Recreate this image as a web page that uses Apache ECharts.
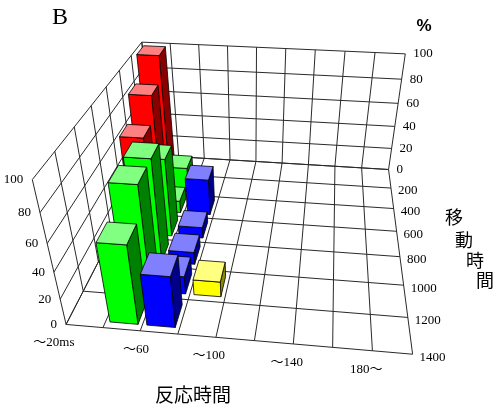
<!DOCTYPE html>
<html><head><meta charset="utf-8">
<script src="https://cdn.jsdelivr.net/npm/echarts@6/dist/echarts.min.js"></script>
<style>html,body{margin:0;padding:0;background:#fff}#chart{width:500px;height:410px}</style>
</head><body><div id="chart"></div>
<script>
// ---------------- data ----------------
const reactionCategories = ['～20ms','～40','～60','～80','～100','～120','～140','～160','180～'];
const reactionLabelStep = 2;
const movementTicks = ['200','400','600','800','1000','1200','1400'];
const percentTicks = [0, 20, 40, 60, 80, 100];
// values (%) per movement-time row (0-200 ... 1200-1400) for each reaction-time category
const rt20 = [99, 80, 61, 0, 0, 0, 0];
const rt40 = [0, 21, 10, 62, 79, 79, 59];
const rt60 = [0, 0, 30, 9, 10, 14, 39];
const rt80 = [0, 0, 0, 0, 0, 12, 0];
const seriesByReaction = [rt20, rt40, rt60, rt80];

// ---------------- styles ----------------
const palettes = [
  {front:'#FF0000', top:'#FF8080', side:'#8A0000'},
  {front:'#00FF00', top:'#80FF80', side:'#008000'},
  {front:'#0000FF', top:'#8080FF', side:'#000088'},
  {front:'#FFFF00', top:'#FFFF80', side:'#8A8A00'}
];
const NX = reactionCategories.length, NY = movementTicks.length, ZMAX = 100;
const BAR_W = 0.76, BAR_D = 0.66;
const GRID_COLOR = '#2a2a2a';
const NUM_FONT = '13px "Liberation Serif", "Noto Sans CJK JP", serif';

// ---------------- perspective (fitted to the reference frame) ----------------
const calib = [
  [0,7,0, 64,323],[9,7,0, 412,355],[9,0,0, 389,170],[9,0,100, 405,53],
  [0,0,100, 142,43],[0,7,100, 33,181],[9,3,0, 396,232],[9,5,0, 403,285],
  [4,7,0, 220,337],[9,0,60, 398,103],[0,7,60, 46,243],[5,0,100, 286,48]
];
function solveDLT(pts){
  const N=11, M=[];
  for(let i=0;i<N;i++) M.push(new Array(N+1).fill(0));
  const rows=[];
  pts.forEach(([X,Y,Z,u,v])=>{
    const x=X/NX,y=Y/NY,z=Z/ZMAX,uu=(u-250)/200,vv=(v-200)/200;
    rows.push([[x,y,z,1,0,0,0,0,-uu*x,-uu*y,-uu*z],uu]);
    rows.push([[0,0,0,0,x,y,z,1,-vv*x,-vv*y,-vv*z],vv]);
  });
  rows.forEach(([a,b])=>{for(let i=0;i<N;i++){for(let j=0;j<N;j++)M[i][j]+=a[i]*a[j];M[i][N]+=a[i]*b;}});
  for(let c=0;c<N;c++){
    let p=c;for(let r=c+1;r<N;r++)if(Math.abs(M[r][c])>Math.abs(M[p][c]))p=r;
    const t=M[c];M[c]=M[p];M[p]=t;
    for(let r=0;r<N;r++){if(r===c)continue;const f=M[r][c]/M[c][c];for(let k=c;k<=N;k++)M[r][k]-=f*M[c][k];}
  }
  return M.map((row,i)=>row[N]/row[i]);
}
const Pm = solveDLT(calib);
function homog(X,Y,Z){
  const x=X/NX,y=Y/NY,z=Z/ZMAX;
  const w=Pm[8]*x+Pm[9]*y+Pm[10]*z+1;
  return {u:(Pm[0]*x+Pm[1]*y+Pm[2]*z+Pm[3])/w*200+250, v:(Pm[4]*x+Pm[5]*y+Pm[6]*z+Pm[7])/w*200+200, w};
}
function proj(X,Y,Z){const h=homog(X,Y,Z);return [h.u,h.v];}
const cam = (function(){
  const a=[[Pm[0],Pm[1],Pm[2]],[Pm[4],Pm[5],Pm[6]],[Pm[8],Pm[9],Pm[10]]], b=[-Pm[3],-Pm[7],-1];
  const det=m=>m[0][0]*(m[1][1]*m[2][2]-m[1][2]*m[2][1])-m[0][1]*(m[1][0]*m[2][2]-m[1][2]*m[2][0])+m[0][2]*(m[1][0]*m[2][1]-m[1][1]*m[2][0]);
  const D=det(a), r=[];
  for(let i=0;i<3;i++){const m=a.map((row,j)=>row.map((v,k)=>k===i?b[j]:v));r.push(det(m)/D);}
  return {X:r[0]*NX,Y:r[1]*NY,Z:r[2]*ZMAX};
})();

// ---------------- bar data (sorted back to front) ----------------
const barData = [];
seriesByReaction.forEach((vals,c)=>vals.forEach((v,r)=>{ if(v>0) barData.push([c,r,v,c]); }));
barData.sort((a,b)=>homog(b[0]+0.5,b[1]+0.5,0).w-homog(a[0]+0.5,a[1]+0.5,0).w);

function renderBar(params, api){
  const c=api.value(0), r=api.value(1), v=api.value(2), k=api.value(3);
  const x0=c+(1-BAR_W)/2, x1=c+(1+BAR_W)/2, y0=r+(1-BAR_D)/2, y1=r+(1+BAR_D)/2;
  const pal=palettes[k], kids=[];
  const poly=(pts,fill)=>({type:'polygon',z2:params.dataIndex,shape:{points:pts.map(p=>proj(p[0],p[1],p[2]))},
    style:{fill,stroke:'#000',lineWidth:0.8,lineJoin:'round'}});
  if(cam.X<x0) kids.push(poly([[x0,y0,0],[x0,y1,0],[x0,y1,v],[x0,y0,v]],pal.side));
  if(cam.X>x1) kids.push(poly([[x1,y0,0],[x1,y1,0],[x1,y1,v],[x1,y0,v]],pal.side));
  if(cam.Y<y0) kids.push(poly([[x0,y0,0],[x1,y0,0],[x1,y0,v],[x0,y0,v]],pal.front));
  if(cam.Y>y1) kids.push(poly([[x0,y1,0],[x1,y1,0],[x1,y1,v],[x0,y1,v]],pal.front));
  if(cam.Z>v) kids.push(poly([[x0,y0,v],[x1,y0,v],[x1,y1,v],[x0,y1,v]],pal.top));
  return {type:'group',children:kids};
}

function renderGrid(){
  const kids=[];
  const seg=(a,b)=>{const p=proj(...a),q=proj(...b);kids.push({type:'line',shape:{x1:p[0],y1:p[1],x2:q[0],y2:q[1]},style:{stroke:GRID_COLOR,lineWidth:1}});};
  for(let r=0;r<=NY;r++) seg([0,r,0],[NX,r,0]);
  for(let c=0;c<=NX;c++) seg([c,0,0],[c,NY,0]);
  percentTicks.forEach(z=>{ seg([0,0,z],[NX,0,z]); seg([0,0,z],[0,NY,z]); });
  for(let c=0;c<=NX;c++) seg([c,0,0],[c,0,ZMAX]);
  for(let r=0;r<=NY;r++) seg([0,r,0],[0,r,ZMAX]);
  return {type:'group',children:kids};
}

// ---------------- text ----------------
const texts=[];
function txt(text,x,y,font,align,valign){
  texts.push({type:'text',x,y,silent:true,style:{text,font,fill:'#000',align,verticalAlign:valign,textAlign:align,textVerticalAlign:valign}});
}
reactionCategories.forEach((t,i)=>{ if(i%reactionLabelStep===0){const p=proj(i+0.5,NY,0);txt(t,p[0]-10,p[1]+17,NUM_FONT,'right','middle');} });
percentTicks.forEach(z=>{const p=proj(0,NY,z);txt(String(z),p[0]-9,p[1],NUM_FONT,'right','middle');});
percentTicks.forEach(z=>{const p=proj(NX,0,z);txt(String(z),p[0]+8,p[1],NUM_FONT,'left','middle');});
movementTicks.forEach((t,i)=>{const p=proj(NX,i+1,0);txt(t,p[0]+7,p[1]+3,NUM_FONT,'left','middle');});
txt('B',60,18,'24px "Liberation Serif", serif','center','middle');
txt('%',424,26,'bold 17px "Liberation Sans", sans-serif','center','middle');
const CJK='18px "Noto Sans CJK JP", sans-serif';
[['移',454,217],['動',464,240],['時',475,260],['間',485,280]].forEach(([c,x,y])=>txt(c,x,y,CJK,'center','middle'));
txt('反応時間',193,395,'19px "Noto Sans CJK JP", sans-serif','center','middle');

const chart = echarts.init(document.getElementById('chart'));
chart.setOption({
  animation:false,
  backgroundColor:'#fff',
  series:[
    {type:'custom',coordinateSystem:'none',silent:true,z:1,data:[[0]],renderItem:renderGrid},
    {type:'custom',coordinateSystem:'none',silent:true,z:2,data:barData,renderItem:renderBar}
  ],
  graphic:{elements:texts}
});
</script></body></html>
